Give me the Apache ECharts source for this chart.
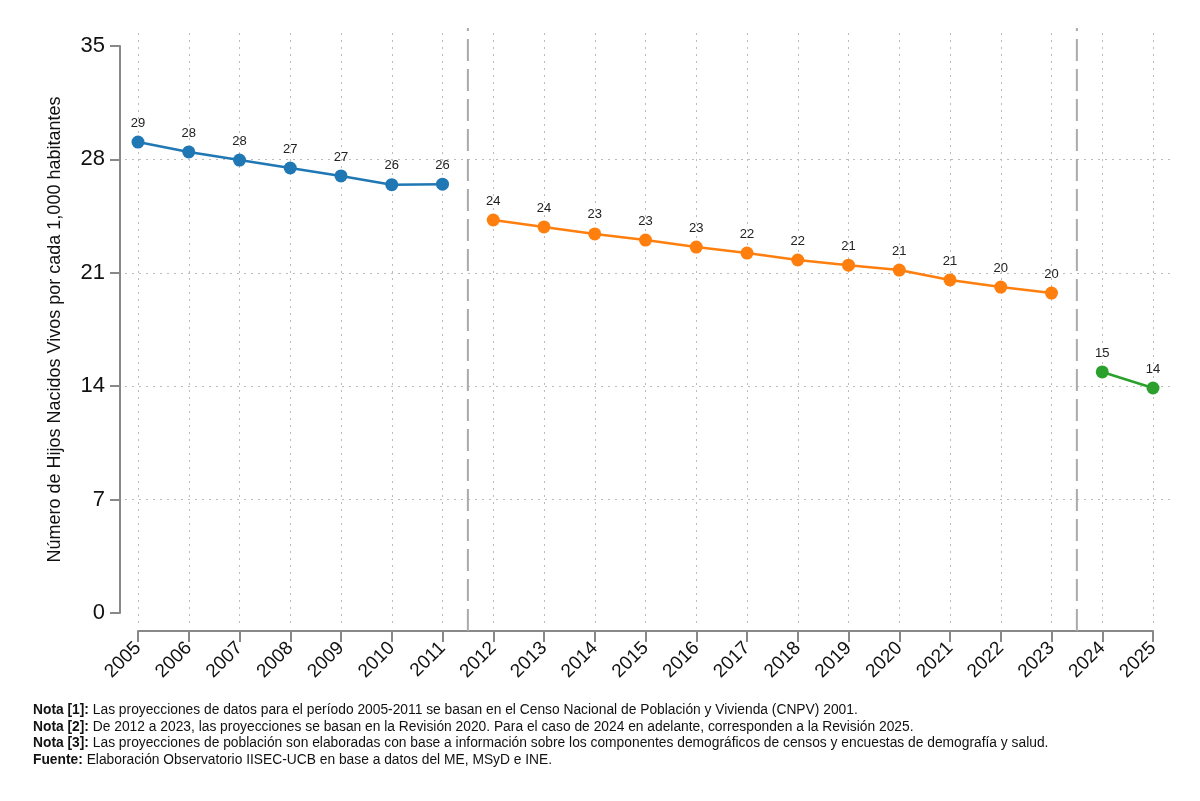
<!DOCTYPE html>
<html>
<head>
<meta charset="utf-8">
<script src="https://cdn.jsdelivr.net/npm/echarts@6/dist/echarts.min.js"></script>
<style>
  html, body { margin: 0; padding: 0; background: #fff; }
  #chart { width: 1200px; height: 801px; }
</style>
</head>
<body>
<div id="chart"></div>
<script>
var anios = ['2005','2006','2007','2008','2009','2010','2011','2012','2013','2014','2015',
             '2016','2017','2018','2019','2020','2021','2022','2023','2024','2025'];
// CNPV 2001 (2005-2011)
var serieCenso = [29.07, 28.46, 27.96, 27.47, 26.98, 26.44, 26.47];
// Revision 2020 (2012-2023)
var serieRev2020 = [24.26, 23.83, 23.40, 23.02, 22.59, 22.22, 21.79, 21.47, 21.17, 20.56, 20.12, 19.75];
// Revision 2025 (2024-2025)
var serieRev2025 = [14.88, 13.89];
var ticksY = [0, 7, 14, 21, 28, 35];
// separadores entre periodos (posicion entre categorias)
var cortes = [6.5, 18.5];

var fuente = "'Liberation Sans Narrow', 'Arial Narrow', 'Liberation Sans', Arial, sans-serif";

// arma cada serie con huecos para los demas anios
function rellenar(vals, desde) {
  var out = [];
  for (var i = 0; i < anios.length; i++) {
    var j = i - desde;
    out.push(j >= 0 && j < vals.length ? vals[j] : '-');
  }
  return out;
}

function serieLinea(nombre, vals, desde, color) {
  return {
    name: nombre,
    type: 'line',
    xAxisIndex: 0, yAxisIndex: 0,
    data: rellenar(vals, desde),
    symbol: 'circle',
    symbolSize: 13,
    lineStyle: { color: color, width: 2.5 },
    itemStyle: { color: color },
    label: {
      show: true, position: 'top', distance: 6,
      fontFamily: fuente, fontSize: 13, color: '#222',
      formatter: function (p) { return Math.round(p.value); }
    },
    z: 5
  };
}

var series = [
  serieLinea('2005-2011', serieCenso, 0, '#1f77b4'),
  serieLinea('2012-2023', serieRev2020, 7, '#ff7f0e'),
  serieLinea('2024-2025', serieRev2025, 19, '#2ca02c')
];
cortes.forEach(function (c) {
  series.push({
    type: 'line',
    xAxisIndex: 3, yAxisIndex: 3,
    data: [[c, 0], [c, 1]],
    symbol: 'none',
    silent: true,
    lineStyle: { color: '#aaa', width: 2, type: [22, 8] },
    z: 2
  });
});

var notas = [
  ['Nota [1]:', ' Las proyecciones de datos para el período 2005-2011 se basan en el Censo Nacional de Población y Vivienda (CNPV) 2001.'],
  ['Nota [2]:', ' De 2012 a 2023, las proyecciones se basan en la Revisión 2020. Para el caso de 2024 en adelante, corresponden a la Revisión 2025.'],
  ['Nota [3]:', ' Las proyecciones de población son elaboradas con base a información sobre los componentes demográficos de censos y encuestas de demografía y salud.'],
  ['Fuente:', ' Elaboración Observatorio IISEC-UCB en base a datos del ME, MSyD e INE.']
];
var textoNotas = notas.map(function (n) { return '{b|' + n[0] + '}{n|' + n[1] + '}'; }).join('\n');

var chart = echarts.init(document.getElementById('chart'));
chart.setOption({
  backgroundColor: '#fff',
  animation: false,
  grid: [
    { left: 138, right: 47, top: 46, bottom: 188 },   // datos y ejes
    { left: 125, right: 30, top: 46, bottom: 188 },   // lineas horizontales
    { left: 138, right: 47, top: 33, bottom: 176 },   // lineas verticales
    { left: 138, right: 47, top: 28, bottom: 170 }    // separadores
  ],
  xAxis: [
    {
      gridIndex: 0, type: 'category', data: anios, boundaryGap: false,
      offset: 18,
      axisLine: { onZero: false, lineStyle: { color: '#888', width: 2 } },
      axisTick: { alignWithLabel: true, length: 11, lineStyle: { color: '#888', width: 2 } },
      axisLabel: { rotate: 45, margin: 14, fontFamily: fuente, fontSize: 19, color: '#111', interval: 0 },
      splitLine: { show: false }
    },
    { gridIndex: 1, type: 'value', min: 0, max: 1, show: false },
    {
      gridIndex: 2, type: 'category', data: anios, boundaryGap: false,
      axisLine: { show: false }, axisTick: { show: false }, axisLabel: { show: false },
      splitLine: { show: true, lineStyle: { color: '#bbb', width: 1, type: [2, 5] } }
    },
    { gridIndex: 3, type: 'value', min: 0, max: 20, show: false }
  ],
  yAxis: [
    {
      gridIndex: 0, type: 'value', min: 0, max: 35, interval: 7,
      offset: 18,
      name: 'Número de Hijos Nacidos Vivos por cada 1,000 habitantes',
      nameLocation: 'middle', nameGap: 56, nameRotate: 90,
      nameTextStyle: { fontFamily: fuente, fontSize: 18, color: '#111' },
      axisLine: { show: true, onZero: false, lineStyle: { color: '#888', width: 2 } },
      axisTick: { show: true, length: 10, lineStyle: { color: '#888', width: 2 } },
      axisLabel: { margin: 15, fontFamily: fuente, fontSize: 22, color: '#111',
        formatter: function (v) { return ticksY.indexOf(v) >= 0 ? v : ''; } },
      splitLine: { show: false }
    },
    {
      gridIndex: 1, type: 'value', min: 0, max: 35, interval: 7,
      axisLine: { show: false }, axisTick: { show: false }, axisLabel: { show: false },
      splitLine: { show: true, showMinLine: false, showMaxLine: false,
        lineStyle: { color: '#bbb', width: 1, type: [2, 5] } }
    },
    { gridIndex: 2, type: 'value', min: 0, max: 1, show: false },
    { gridIndex: 3, type: 'value', min: 0, max: 1, show: false }
  ],
  series: series,
  graphic: [{
    type: 'text', left: 33, top: 702,
    style: {
      text: textoNotas,
      lineHeight: 16.5,
      rich: {
        b: { fontFamily: fuente, fontSize: 13.8, fontWeight: 'bold', fill: '#111', lineHeight: 16.5 },
        n: { fontFamily: fuente, fontSize: 13.8, fill: '#111', lineHeight: 16.5 }
      }
    }
  }]
});
</script>
</body>
</html>
